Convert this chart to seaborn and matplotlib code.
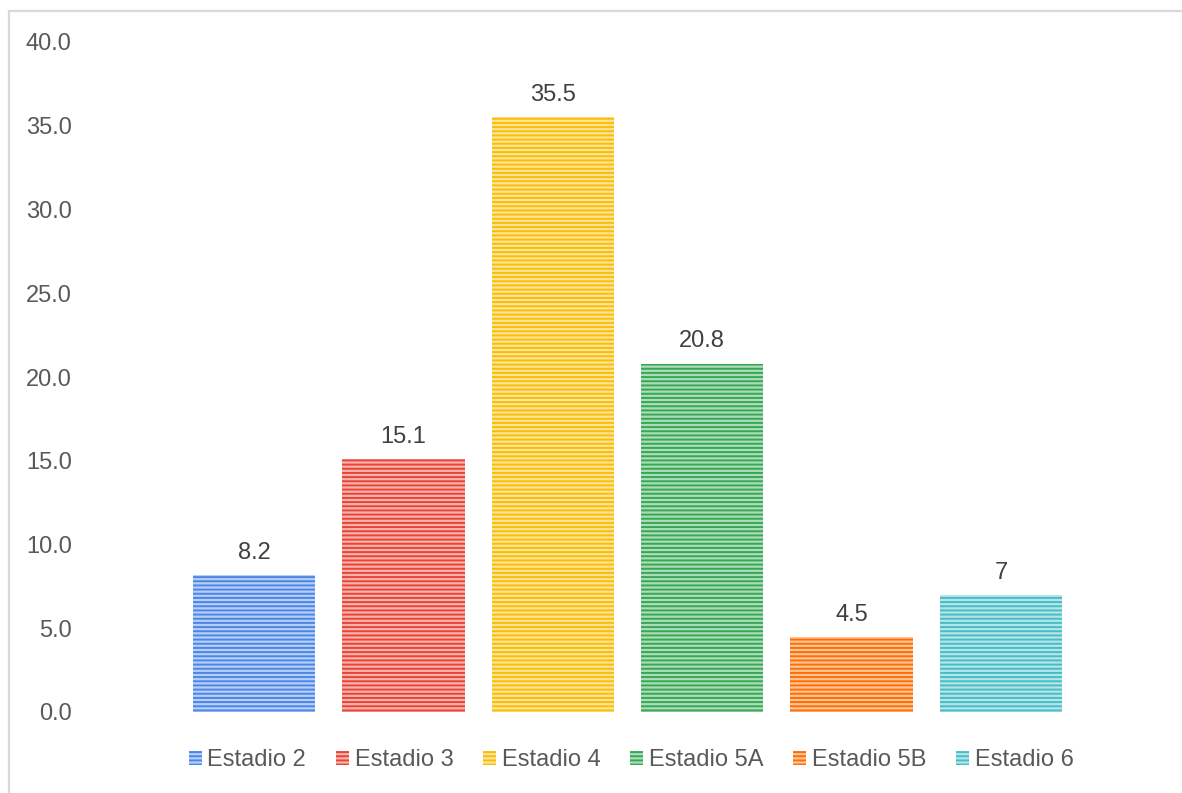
import matplotlib
matplotlib.use("Agg")
import matplotlib.pyplot as plt
import seaborn as sns
import pandas as pd
from matplotlib.patches import Patch, Rectangle
from matplotlib.colors import to_rgb

# chart data
estadios = ["Estadio 2", "Estadio 3", "Estadio 4", "Estadio 5A", "Estadio 5B", "Estadio 6"]
porcentajes = [8.2, 15.1, 35.5, 20.8, 4.5, 7.0]
etiquetas = ["8.2", "15.1", "35.5", "20.8", "4.5", "7"]
y_ticks = [0, 5, 10, 15, 20, 25, 30, 35, 40]
colores = ["#4a86e8", "#ea4335", "#fbbc04", "#34a853", "#ff6d01", "#46bdc6"]


def tint(c, f=0.55):
    r, g, b = to_rgb(c)
    return (r + (1 - r) * f, g + (1 - g) * f, b + (1 - b) * f)


sns.set_theme(style="white")
plt.rcParams["font.family"] = ["Liberation Sans", "DejaVu Sans"]
plt.rcParams["hatch.linewidth"] = 1.4

df = pd.DataFrame({"estadio": estadios, "valor": porcentajes})

W, H = 1182, 793
fig = plt.figure(figsize=(W / 100, H / 100), dpi=100)
ax = fig.add_axes([80 / W, (H - 712) / H, 1095 / W, 670 / H])

sns.barplot(data=df, x="estadio", y="valor", hue="estadio", palette=colores,
            width=0.82, legend=False, ax=ax, hatch="----", linewidth=0)

# striped look: pale face, full colour stripes
for patch, c in zip(ax.patches, colores):
    patch.set_facecolor(tint(c, 0.6))
    patch.set_edgecolor(c)
    patch.set_linewidth(0)

for cont, lab in zip(ax.containers, etiquetas):
    ax.bar_label(cont, labels=[lab], padding=8, fontsize=17, color="#404040")

ax.set_ylim(0, 40)
ax.set_xlim(-1.165, 6.165)
ax.set_yticks(y_ticks)
ax.set_yticklabels([f"{v:.1f}" for v in y_ticks], fontsize=17, color="#595959")
ax.tick_params(axis="y", length=0, pad=6)
ax.set_xticks([])
ax.set_xlabel("")
ax.set_ylabel("")
for s in ax.spines.values():
    s.set_visible(False)

handles = [Patch(facecolor=tint(c, 0.6), edgecolor=c, hatch="----", linewidth=0) for c in colores]
leg = fig.legend(handles, estadios, loc="center", bbox_to_anchor=(631 / W, 1 - 760 / H),
                 ncol=6, frameon=False, fontsize=17, handlelength=0.55, handleheight=0.55,
                 handletextpad=0.25, columnspacing=1.25, labelcolor="#595959")

# light frame at top and left
fig.add_artist(Rectangle((9 / W, -0.1), 1.2, 1.1 - 11 / H, transform=fig.transFigure,
                         fill=False, edgecolor="#d9d9d9", linewidth=1.6))

fig.savefig("out.png", dpi=100)
